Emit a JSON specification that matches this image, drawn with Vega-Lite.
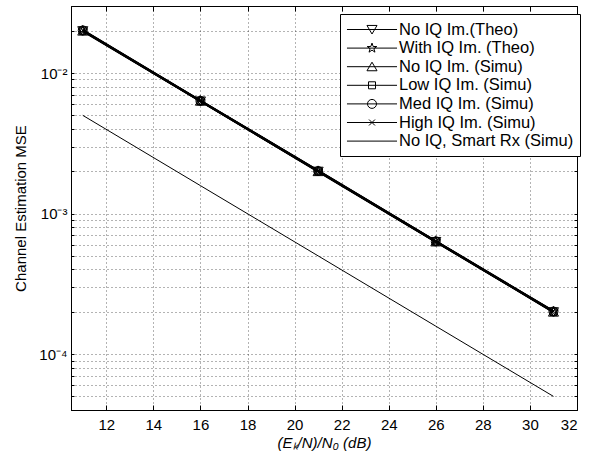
{
  "$schema": "https://vega.github.io/schema/vega-lite/v6.json",
  "width": 506,
  "height": 404,
  "autosize": "none",
  "padding": {"left": 71, "top": 6, "right": 22, "bottom": 43},
  "background": "white",
  "config": {
    "view": {"stroke": "black", "strokeWidth": 1},
    "font": "Liberation Sans"
  },
  "data": {
    "values": [
      {"series": "No IQ Im.(Theo)", "x": 11, "y": 0.02},
      {"series": "No IQ Im.(Theo)", "x": 16, "y": 0.006325},
      {"series": "No IQ Im.(Theo)", "x": 21, "y": 0.002},
      {"series": "No IQ Im.(Theo)", "x": 26, "y": 0.0006325},
      {"series": "No IQ Im.(Theo)", "x": 31, "y": 0.0002},
      {"series": "With IQ Im. (Theo)", "x": 11, "y": 0.0201},
      {"series": "With IQ Im. (Theo)", "x": 16, "y": 0.00635},
      {"series": "With IQ Im. (Theo)", "x": 21, "y": 0.00201},
      {"series": "With IQ Im. (Theo)", "x": 26, "y": 0.000635},
      {"series": "With IQ Im. (Theo)", "x": 31, "y": 0.000201},
      {"series": "No IQ Im. (Simu)", "x": 11, "y": 0.0199},
      {"series": "No IQ Im. (Simu)", "x": 16, "y": 0.00631},
      {"series": "No IQ Im. (Simu)", "x": 21, "y": 0.00199},
      {"series": "No IQ Im. (Simu)", "x": 26, "y": 0.000629},
      {"series": "No IQ Im. (Simu)", "x": 31, "y": 0.000199},
      {"series": "Low IQ Im. (Simu)", "x": 11, "y": 0.02},
      {"series": "Low IQ Im. (Simu)", "x": 16, "y": 0.00632},
      {"series": "Low IQ Im. (Simu)", "x": 21, "y": 0.002},
      {"series": "Low IQ Im. (Simu)", "x": 26, "y": 0.000632},
      {"series": "Low IQ Im. (Simu)", "x": 31, "y": 0.0002},
      {"series": "Med IQ Im. (Simu)", "x": 11, "y": 0.0201},
      {"series": "Med IQ Im. (Simu)", "x": 16, "y": 0.00634},
      {"series": "Med IQ Im. (Simu)", "x": 21, "y": 0.00201},
      {"series": "Med IQ Im. (Simu)", "x": 26, "y": 0.000634},
      {"series": "Med IQ Im. (Simu)", "x": 31, "y": 0.000201},
      {"series": "High IQ Im. (Simu)", "x": 11, "y": 0.0202},
      {"series": "High IQ Im. (Simu)", "x": 16, "y": 0.00636},
      {"series": "High IQ Im. (Simu)", "x": 21, "y": 0.00202},
      {"series": "High IQ Im. (Simu)", "x": 26, "y": 0.000637},
      {"series": "High IQ Im. (Simu)", "x": 31, "y": 0.000202},
      {"series": "No IQ, Smart Rx (Simu)", "x": 11, "y": 0.005},
      {"series": "No IQ, Smart Rx (Simu)", "x": 16, "y": 0.00158},
      {"series": "No IQ, Smart Rx (Simu)", "x": 21, "y": 0.0005},
      {"series": "No IQ, Smart Rx (Simu)", "x": 26, "y": 0.000158},
      {"series": "No IQ, Smart Rx (Simu)", "x": 31, "y": 0.00005}
    ]
  },
  "resolve": {
    "axis": {"x": "independent", "y": "independent"},
    "scale": {"shape": "independent"},
    "legend": {"shape": "independent"}
  },
  "layer": [
    {
      "mark": {"type": "line", "color": "black"},
      "encoding": {
        "x": {
          "field": "x", "type": "quantitative",
          "scale": {"domain": [10.5, 32], "nice": false, "zero": false},
          "axis": {
            "values": [12, 14, 16, 18, 20, 22, 24, 26, 28, 30, 32],
            "grid": true, "gridDash": [1, 3], "gridColor": "#000", "gridOpacity": 0.6,
            "tickSize": -5, "tickColor": "black", "domainColor": "black",
            "labelPadding": 12, "labelFontSize": 15, "labelColor": "black",
            "title": "(Eₖ/N)/N₀ (dB)", "titleFontSize": 15, "titleFontWeight": "normal",
            "titleFontStyle": "italic", "titleColor": "black", "titlePadding": 3
          }
        },
        "y": {
          "field": "y", "type": "quantitative",
          "scale": {"type": "log", "domain": [0.00004, 0.03], "nice": false},
          "axis": {
            "values": [0.00004, 0.00005, 0.00006, 0.00007, 0.00008, 0.00009, 0.0001, 0.0002, 0.0003, 0.0004, 0.0005, 0.0006, 0.0007, 0.0008, 0.0009, 0.001, 0.002, 0.003, 0.004, 0.005, 0.006, 0.007, 0.008, 0.009, 0.01, 0.02, 0.03],
            "labelExpr": "datum.value == 0.01 ? '10⁻²' : datum.value == 0.001 ? '10⁻³' : datum.value == 0.0001 ? '10⁻⁴' : ''",
            "grid": true, "gridDash": [1, 3], "gridColor": "#000", "gridOpacity": 0.6,
            "tickSize": -3, "tickColor": "black", "domainColor": "black",
            "labelPadding": 7, "labelFontSize": 15, "labelColor": "black",
            "labelOverlap": false,
            "title": "Channel Estimation MSE", "titleFontSize": 15, "titleFontWeight": "normal",
            "titleColor": "black", "titlePadding": 10
          }
        },
        "detail": {"field": "series"},
        "strokeWidth": {
          "condition": {"test": "datum.series === 'No IQ, Smart Rx (Simu)'", "value": 1},
          "value": 2
        }
      }
    },
    {
      "mark": {"type": "point", "filled": false, "size": 324, "strokeWidth": 1, "color": "black", "opacity": 1},
      "encoding": {
        "x": {"field": "x", "type": "quantitative", "axis": null},
        "y": {"field": "y", "type": "quantitative", "axis": null},
        "shape": {
          "field": "series", "type": "nominal",
          "scale": {
            "domain": ["No IQ Im.(Theo)", "With IQ Im. (Theo)", "No IQ Im. (Simu)", "Low IQ Im. (Simu)", "Med IQ Im. (Simu)", "High IQ Im. (Simu)", "No IQ, Smart Rx (Simu)"],
            "range": [
              "M-0.56,-0.45L0.56,-0.45L0,0.5Z",
              "M0,-0.56L0.129,-0.178L0.533,-0.173L0.209,0.068L0.329,0.453L0,0.22L-0.329,0.453L-0.209,0.068L-0.533,-0.173L-0.129,-0.178Z",
              "M-0.56,0.45L0.56,0.45L0,-0.5Z",
              "M-0.39,-0.39H0.39V0.39H-0.39Z",
              "M0.5,0A0.5,0.5,0,1,1,-0.5,0A0.5,0.5,0,1,1,0.5,0Z",
              "M-0.33,-0.33L0.33,0.33M-0.33,0.33L0.33,-0.33",
              "M0,0"
            ]
          },
          "legend": null
        }
      }
    },
    {
      "transform": [{"filter": "false"}],
      "mark": {"type": "point", "filled": false, "size": 324, "strokeWidth": 1, "color": "black", "opacity": 1},
      "encoding": {
        "shape": {
          "field": "series", "type": "nominal",
          "scale": {
            "domain": ["No IQ Im.(Theo)", "With IQ Im. (Theo)", "No IQ Im. (Simu)", "Low IQ Im. (Simu)", "Med IQ Im. (Simu)", "High IQ Im. (Simu)", "No IQ, Smart Rx (Simu)"],
            "range": [
              "M-2.78,0H2.78M-0.56,-0.45L0.56,-0.45L0,0.5Z",
              "M-2.78,0H2.78M0,-0.56L0.129,-0.178L0.533,-0.173L0.209,0.068L0.329,0.453L0,0.22L-0.329,0.453L-0.209,0.068L-0.533,-0.173L-0.129,-0.178Z",
              "M-2.78,0H2.78M-0.56,0.45L0.56,0.45L0,-0.5Z",
              "M-2.78,0H2.78M-0.39,-0.39H0.39V0.39H-0.39Z",
              "M-2.78,0H2.78M0.5,0A0.5,0.5,0,1,1,-0.5,0A0.5,0.5,0,1,1,0.5,0Z",
              "M-2.78,0H2.78M-0.33,-0.33L0.33,0.33M-0.33,0.33L0.33,-0.33",
              "M-2.78,0H2.78"
            ]
          },
          "legend": {
            "title": null,
            "orient": "none",
            "legendX": 269,
            "legendY": 8,
            "padding": 6,
            "rowPadding": 0.6,
            "strokeColor": "black",
            "fillColor": "white",
            "symbolSize": 324,
            "symbolStrokeWidth": 1,
            "symbolStrokeColor": "black",
            "symbolFillColor": "transparent",
            "symbolOpacity": 1,
            "symbolOffset": 16.5,
            "labelOffset": 17.5,
            "labelFontSize": 16.5,
            "labelColor": "black",
            "labelLimit": 400
          }
        }
      }
    },
    {
      "mark": {"type": "point", "opacity": 0},
      "encoding": {
        "x": {
          "field": "x", "type": "quantitative",
          "axis": {
            "orient": "top", "values": [12, 14, 16, 18, 20, 22, 24, 26, 28, 30, 32],
            "labels": false, "grid": false, "domain": false, "tickSize": -5, "tickColor": "black", "title": null
          }
        },
        "y": {
          "field": "y", "type": "quantitative",
          "axis": {
            "orient": "right",
            "values": [0.00004, 0.00005, 0.00006, 0.00007, 0.00008, 0.00009, 0.0001, 0.0002, 0.0003, 0.0004, 0.0005, 0.0006, 0.0007, 0.0008, 0.0009, 0.001, 0.002, 0.003, 0.004, 0.005, 0.006, 0.007, 0.008, 0.009, 0.01, 0.02, 0.03],
            "labels": false, "grid": false, "domain": false, "tickSize": -3, "tickColor": "black", "title": null
          }
        }
      }
    }
  ]
}
